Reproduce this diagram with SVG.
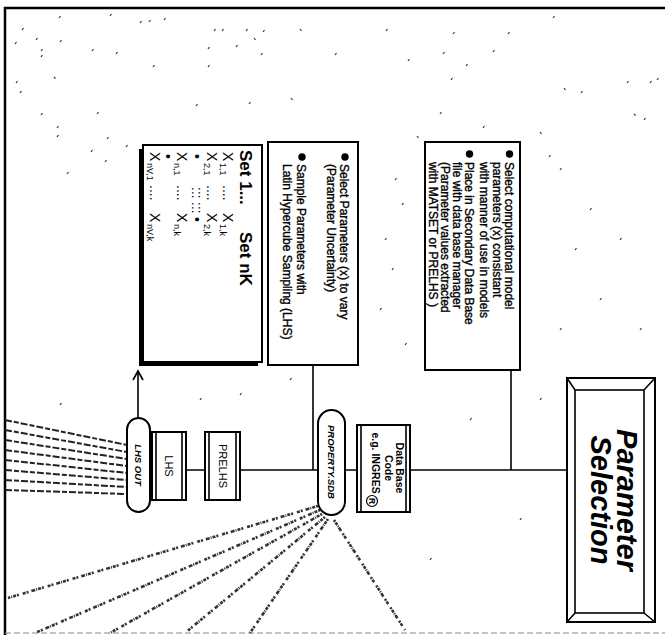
<svg xmlns="http://www.w3.org/2000/svg" width="665" height="635" viewBox="0 0 665 635">
<defs>
<style>
.box{fill:#fff;stroke:#000;stroke-width:2}
.ln{fill:none;stroke:#000;stroke-width:1.6}
.t{font-family:"Liberation Sans",Arial,sans-serif;fill:#000}
.bt{font-family:"Liberation Sans",Arial,sans-serif;font-size:12px;fill:#000;stroke:#000;stroke-width:0.35}
.dash{fill:none;stroke:#222;stroke-width:2;stroke-dasharray:7 2 5 2}
.garb{fill:none;stroke:#333;stroke-width:2.6;stroke-dasharray:2 1 3 1 1 1 4 3 2 1 3 4}
.noise{fill:none;stroke:#333;stroke-width:1.2}
</style>
<marker id="arr" markerWidth="12" markerHeight="12" refX="10" refY="6" orient="auto" markerUnits="userSpaceOnUse"><path d="M1,1 L10,6 L1,11" fill="none" stroke="#000" stroke-width="1.6"/></marker>
</defs>
<rect width="665" height="635" fill="#fff"/>
<g id="frame">
<path d="M5,635 V8 H665" fill="none" stroke="#000" stroke-width="2.5"/>
<path d="M5,633 H665" fill="none" stroke="#888" stroke-width="1" stroke-dasharray="6 3"/>
</g>
<g id="noise" class="noise">
<path d="M59,18 l1.5,-2 M110,16 l1.5,-2 M140,23 l1.5,-2 M149,22 l1.5,-2 M164,20 l1.5,-2 M22,30 l1.5,-2 M36,40 l1.5,-2 M60,42 l1.5,-2 M15,44 l1.5,-2 M41,51 l1.5,-2 M41,57 l1.5,-2 M92,51 l1.5,-2 M116,54 l1.5,-2 M54,77 l1.5,1.5 M153,67 l1.5,-2 M208,67 l1.5,-2 M208,49 l1.5,-2 M214,31 l1.5,-2 M222,31 l1.5,-2 M246,31 l1.5,-2 M254,38 l1.5,2 M263,32 l1.5,-2 M236,47 l1.5,-2 M261,55 l1.5,-2 M300,29 l1.5,2 M335,55 l1.5,-2 M386,31 l1.5,-2 M408,61 l1.5,-2 M443,54 l1.5,-2 M453,34 l1.5,-2 M466,66 l1.5,-2 M493,52 l1.5,-2 M508,34 l1.5,-2 M451,80 l1.5,-2 M553,18 l1.5,-2 M564,88 l1.5,2 M581,93 l1.5,-2 M627,83 l1.5,-2 M650,83 l1.5,-2 M657,80 l1.5,-2 M634,114 l1.5,1.5 M644,120 l1.5,-2 M16,83 l1.5,-2 M20,93 l1.5,-2 M41,115 l1.5,-2 M97,114 l1.5,-2 M57,128 l1.5,-2 M57,137 l1.5,-2 M107,139 l1.5,-2 M126,147 l1.5,-2 M91,152 l1.5,-2 M105,162 l1.5,-2 M67,174 l1.5,-2 M172,169 l1.5,-2 M208,165 l1.5,-2 M218,167 l1.5,-2 M282,165 l1.5,2 M196,106 l1.5,-2 M249,104 l1.5,-2 M291,98 l1.5,2 M440,114 l1.5,-2 M417,136 l1.5,2 M483,128 l1.5,-2 M540,132 l1.5,2 M458,153 l1.5,-2 M479,149 l1.5,2 M549,157 l1.5,-2 M395,180 l1.5,-2 M402,205 l1.5,-2 M385,240 l1.5,-2 M392,270 l1.5,-2 M380,310 l1.5,-2 M405,345 l1.5,-2 M560,170 l1.5,-2 M590,210 l1.5,-2 M575,250 l1.5,-2 M620,240 l1.5,-2 M600,300 l1.5,-2 M560,330 l1.5,-2 M640,330 l1.5,-2 M290,380 l1.5,-2 M240,395 l1.5,-2 M200,400 l1.5,-2 M60,405 l1.5,-2 M540,400 l1.5,-2 M470,420 l1.5,-2 M520,520 l1.5,-2 M430,560 l1.5,-2"/>
</g>
<g id="connectors">
<path class="ln" d="M150,470 H567"/>
<path class="ln" d="M313,365 V470"/>
<path class="ln" d="M511,370 V470"/>
<path class="ln" d="M138,418 V371" marker-end="url(#arr)"/>
<g class="dash">
<path d="M5,420 L127,445"/>
<path d="M5,430 L127,452"/>
<path d="M5,440 L127,459"/>
<path d="M5,450 L127,466"/>
<path d="M5,460 L127,473"/>
<path d="M5,470 L127,480"/>
<path d="M5,480 L127,487"/>
<path d="M5,490 L127,494"/>
</g>
<g class="garb">
<path d="M318,506 L8,598"/>
<path d="M320,510 L35,633"/>
<path d="M322,514 L110,633"/>
<path d="M325,517 L185,633"/>
<path d="M328,519 L250,633"/>
<path d="M334,520 L405,630"/>
</g>
</g>
<g id="matrix">
<rect x="139" y="149" width="119" height="217" fill="#000"/>
<rect class="box" x="143" y="145" width="119" height="217"/>
<g transform="translate(262,145) rotate(90)" class="t">
<text x="5" y="22" font-size="17" font-weight="bold">Set 1...</text>
<text x="87" y="22" font-size="17" font-weight="bold">Set nK</text>
<g font-size="14">
<text y="39"><tspan x="7">X</tspan><tspan x="18" dy="3" font-size="9">1,1</tspan><tspan x="40" dy="-3">....</tspan><tspan x="68">X</tspan><tspan x="79" dy="3" font-size="9">1,k</tspan></text>
<text y="55"><tspan x="7">X</tspan><tspan x="18" dy="3" font-size="9">2,1</tspan><tspan x="40" dy="-3">....</tspan><tspan x="68">X</tspan><tspan x="79" dy="3" font-size="9">2,k</tspan></text>
<text y="70"><tspan x="9">•</tspan><tspan x="42">:::</tspan><tspan x="57">:::</tspan><tspan x="72">•</tspan></text>
<text y="85"><tspan x="7">X</tspan><tspan x="18" dy="3" font-size="9">n,1</tspan><tspan x="40" dy="-3">....</tspan><tspan x="68">X</tspan><tspan x="79" dy="3" font-size="9">n,k</tspan></text>
<text y="99"><tspan x="9">•</tspan></text>
<text y="112"><tspan x="7">X</tspan><tspan x="18" dy="3" font-size="9">nV,1</tspan><tspan x="40" dy="-3">....</tspan><tspan x="68">X</tspan><tspan x="79" dy="3" font-size="9">nV,k</tspan></text>
</g>
</g>
</g>
<g id="selectParams">
<rect class="box" x="268" y="142" width="90" height="223"/>
<g transform="translate(358,142) rotate(90)">
<circle cx="15" cy="13" r="3.7"/>
<circle cx="15" cy="56" r="3.7"/>
<text class="bt" x="22" y="18">Select Parameters (x) to vary</text>
<text class="bt" x="22" y="31">(Parameter Uncertainty)</text>
<text class="bt" x="22" y="61">Sample Parameters with</text>
<text class="bt" x="22" y="75">Latin Hypercube Sampling (LHS)</text>
</g>
</g>
<g id="selectModel">
<rect class="box" x="425" y="142" width="95" height="228"/>
<g transform="translate(520,142) rotate(90)">
<circle cx="12" cy="10.5" r="3.7"/>
<circle cx="12" cy="50.5" r="3.7"/>
<text class="bt" x="20" y="15">Select computational model</text>
<text class="bt" x="20" y="27.5">parameters (x) consistant</text>
<text class="bt" x="20" y="40">with manner of use in models</text>
<text class="bt" x="20" y="55">Place in Secondary Data Base</text>
<text class="bt" x="20" y="67">file with data base manager</text>
<text class="bt" x="20" y="79">(Parameter values extracted</text>
<text class="bt" x="20" y="91">with MATSET or PRELHS )</text>
</g>
</g>
<g id="lhsout">
<rect class="box" x="127" y="418" width="23" height="94" rx="11.5"/>
<text class="t" x="138.5" y="465" transform="rotate(90 138.5 465)" text-anchor="middle" dominant-baseline="central" font-size="9.5" font-weight="bold" font-style="italic">LHS OUT</text>
</g>
<g id="lhs">
<rect class="box" x="152" y="432" width="34" height="68"/>
<path class="ln" d="M156,432 V500 M182,432 V500"/>
<text class="t" x="169" y="466" transform="rotate(90 169 466)" text-anchor="middle" dominant-baseline="central" font-size="11">LHS</text>
</g>
<g id="prelhs">
<rect class="box" x="205" y="432" width="35" height="68"/>
<path class="ln" d="M209,432 V500 M236,432 V500"/>
<text class="t" x="222.5" y="466" transform="rotate(90 222.5 466)" text-anchor="middle" dominant-baseline="central" font-size="11">PRELHS</text>
</g>
<g id="property">
<rect class="box" x="318" y="410" width="27" height="105" rx="13.5"/>
<text class="t" x="331.5" y="462" transform="rotate(90 331.5 462)" text-anchor="middle" dominant-baseline="central" font-size="9.5" font-weight="bold" font-style="italic">PROPERTY.SDB</text>
</g>
<g id="database">
<rect class="box" x="357" y="425" width="53" height="87"/>
<path class="ln" d="M361,425 V512 M406,425 V512"/>
<g transform="translate(410,468) rotate(90)" class="t" font-size="10.5" font-weight="bold" text-anchor="middle">
<text x="0" y="14">Data Base</text>
<text x="0" y="25.5">Code</text>
<text x="-5" y="38">e.g. INGRES</text>
<circle cx="33" cy="38" r="5.5" fill="none" stroke="#000" stroke-width="1.2"/>
<text x="33" y="41.5" font-size="8.5">R</text>
</g>
</g>
<g id="paramSelection">
<rect class="box" x="567" y="378" width="88" height="244"/>
<rect fill="none" stroke="#000" stroke-width="1.6" x="575" y="390" width="69" height="223"/>
<path class="ln" d="M567,378 L575,390 M655,378 L644,390 M567,622 L575,613 M655,622 L644,613"/>
<g transform="translate(655,500) rotate(90)" class="t" font-size="29" font-weight="bold" font-style="italic" text-anchor="middle">
<text x="0" y="38">Parameter</text>
<text x="0" y="64">Selection</text>
</g>
</g>
</svg>
